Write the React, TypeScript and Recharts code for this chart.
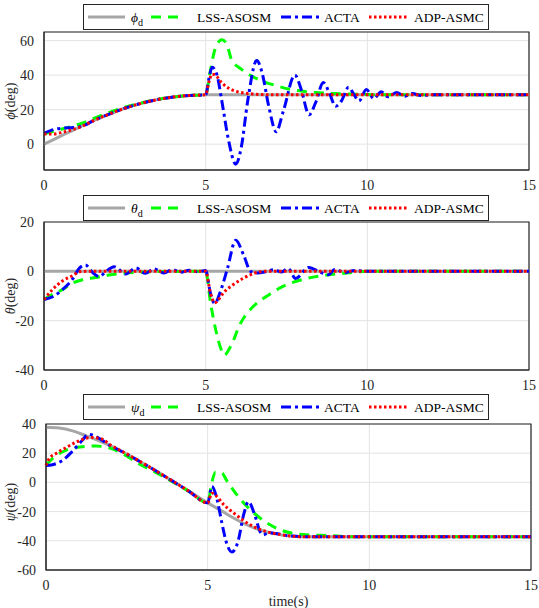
import { LineChart, Line, XAxis, YAxis, CartesianGrid, ReferenceArea } from 'recharts'

const timeTicks = [0, 5, 10, 15]
const phiTicks = [0, 20, 40, 60]
const thetaTicks = [-40, -20, 0, 20]
const psiTicks = [-60, -40, -20, 0, 20, 40]

// roll angle
const phiRefT = [0, 0.5, 1, 1.5, 2, 2.5, 3, 3.5, 4, 4.5, 5, 15]
const phiRefV = [0, 4.5, 9, 13.3, 17.3, 20.8, 23.6, 25.8, 27.3, 28.2, 28.6, 28.6]
const phiLssT = [0, 0.4, 0.8, 1.2, 1.6, 2, 2.5, 3, 3.5, 4, 4.5, 5, 5.13, 5.29, 5.5, 5.65, 5.8, 6.1, 6.4, 6.8, 7.2, 7.6, 8, 8.5, 9, 9.5, 10, 15]
const phiLssV = [6, 8, 10, 12.3, 15.3, 18.3, 21.4, 23.8, 25.9, 27.3, 28.2, 28.6, 41, 55, 60.5, 58, 49, 43.5, 39.7, 36.2, 33.8, 31.8, 30.6, 29.8, 29.3, 29, 28.7, 28.6]
const phiActaT = [0, 0.3, 0.6, 0.9, 1.2, 1.5, 2, 2.5, 3, 3.5, 4, 4.5, 5, 5.1, 5.2, 5.35, 5.5, 5.7, 5.93, 6.1, 6.3, 6.58, 6.75, 6.95, 7.18, 7.4, 7.76, 7.95, 8.2, 8.4, 8.64, 8.82, 9.02, 9.2, 9.42, 9.58, 9.74, 9.97, 10.2, 10.43, 10.64, 10.9, 11.15, 11.4, 11.65, 12, 15]
const phiActaV = [6.3, 8.5, 9.3, 9.6, 10.5, 13.3, 17.3, 20.8, 23.6, 25.8, 27.3, 28.2, 28.6, 38, 44.5, 40, 25, 3, -11.6, -2, 25, 48.5, 41, 22, 7.2, 19, 40, 32, 17, 24, 35.7, 30, 22, 25, 33, 29, 25, 31.6, 26.4, 30.3, 27.4, 30, 27.8, 29.3, 28.2, 28.6, 28.6]
const phiAdpT = [0, 0.3, 0.6, 0.9, 1.2, 1.5, 2, 2.5, 3, 3.5, 4, 4.5, 5, 5.1, 5.2, 5.3, 5.5, 5.75, 6, 6.5, 7, 15]
const phiAdpV = [5.8, 5.9, 7, 8.5, 10.5, 13.3, 17.3, 20.8, 23.6, 25.8, 27.3, 28.2, 28.6, 36, 40.5, 40, 35.5, 32, 30.3, 29, 28.6, 28.6]

// pitch angle
const thetaRefT = [0, 15]
const thetaRefV = [0, 0]
const thetaLssT = [0, 0.27, 0.58, 0.88, 1.19, 1.6, 2, 2.5, 3, 3.5, 5, 5.15, 5.31, 5.46, 5.57, 5.77, 6.08, 6.49, 6.9, 7.42, 8.03, 8.75, 9.37, 10, 15]
const thetaLssV = [-11.4, -9.3, -7.3, -4.8, -3.4, -2.5, -1.5, -0.7, -0.4, -0.1, 0, -12.7, -23.7, -31, -34, -30.5, -21, -14, -10, -5.9, -3.2, -1.5, -0.7, 0, 0]
const thetaActaT = [0, 0.27, 0.58, 0.88, 1.09, 1.28, 1.5, 1.71, 1.91, 2.17, 2.53, 2.84, 3.13, 3.4, 3.71, 3.97, 4.23, 4.49, 4.75, 5, 5.15, 5.28, 5.46, 5.67, 5.93, 6.18, 6.39, 6.6, 6.85, 7.1, 7.35, 7.55, 7.78, 8.19, 8.55, 8.8, 9, 9.3, 9.6, 10, 15]
const thetaActaV = [-11.4, -10.3, -7.3, -3.2, 1.2, 2.6, -0.4, -2.1, -0.1, 1.9, -1.1, 1.4, -0.8, 1, -0.7, 0.7, -0.4, 0.4, -0.2, 0.3, -9, -13, -8, 1, 12.6, 6.4, 0, -0.7, -0.2, 0.7, -0.3, 1.2, -2.9, 1.6, -0.4, -1.4, 0.9, -0.6, 0.3, 0, 0]
const thetaAdpT = [0, 0.27, 0.58, 0.88, 1.09, 1.3, 5, 5.15, 5.28, 5.57, 5.87, 6.18, 6.5, 6.8, 15]
const thetaAdpV = [-11.4, -7.3, -3.8, -1.8, -0.2, 0, 0, -9, -12.7, -8.4, -5.2, -2.7, -0.8, 0, 0]

// yaw angle
const psiRefT = [0, 0.41, 0.82, 1.23, 1.64, 2, 2.36, 2.87, 3.38, 3.89, 4.4, 5, 5.39, 5.8, 6.2, 6.62, 7.03, 7.54, 8.05, 15]
const psiRefV = [37.7, 37.2, 35.3, 32, 28.5, 25, 21, 14.7, 8.1, 1.2, -5.8, -14, -19, -24.4, -29, -32.6, -34.9, -36.7, -37.2, -37.2]
const psiLssT = [0, 0.2, 0.61, 1.13, 1.54, 1.95, 2.36, 2.87, 3.38, 3.89, 4.4, 5, 5.13, 5.24, 5.44, 5.59, 5.85, 6.21, 6.62, 7.13, 7.64, 8.16, 8.67, 9.5, 15]
const psiLssV = [12, 16.3, 22, 24.4, 24.9, 23.7, 19.8, 12.8, 7, 0.7, -5.8, -14, 0, 7, 6.5, 1.2, -7, -16.3, -24.4, -31.4, -34.9, -36, -36.3, -37.2, -37.2]
const psiActaT = [0, 0.2, 0.51, 0.82, 1.13, 1.31, 1.54, 2, 2.36, 2.87, 3.38, 3.89, 4.4, 5, 5.13, 5.29, 5.44, 5.59, 5.75, 5.95, 6.1, 6.26, 6.47, 6.62, 6.72, 6.88, 7.1, 7.54, 8.05, 15]
const psiActaV = [11.6, 12.1, 15.1, 21.4, 29, 33, 31.4, 25, 21, 14.7, 8.1, 1.2, -5.8, -14, -2.8, -11.6, -27.9, -41.9, -47.7, -39.5, -23.3, -13.3, -23.3, -33.7, -36, -34.4, -35, -36.7, -37.2, -37.2]
const psiAdpT = [0, 0.1, 0.31, 0.61, 0.92, 1.23, 1.43, 1.74, 2, 2.36, 2.87, 3.38, 3.89, 4.4, 5, 5.13, 5.24, 5.49, 5.8, 6.1, 6.41, 6.82, 7.34, 7.85, 15]
const psiAdpV = [11.6, 16.3, 19.8, 23.7, 27.4, 30.2, 30.7, 29.6, 25.5, 21.2, 14.8, 8.2, 1.3, -5.7, -14, -7.4, -8.8, -15.1, -20.9, -26, -30.2, -33.7, -36, -37.2, -37.2]

const seriesNames = ['LSS-ASOSM', 'ACTA', 'ADP-ASMC']

const AXIS = '#262626'
const FONT = 'Liberation Serif, serif'

const lineStyles = [
  { stroke: '#a6a6a6', strokeWidth: 3 },
  { stroke: '#00ff00', strokeWidth: 3, strokeDasharray: '10 7' },
  { stroke: '#0000ff', strokeWidth: 3, strokeDasharray: '10 4 3 4' },
  { stroke: '#ff0000', strokeWidth: 3, strokeDasharray: '2.5 2.5' },
]

const toPoints = (t: number[], v: number[]) => t.map((x, i) => ({ t: x, v: v[i] }))

interface PanelProps {
  top: number
  height: number
  plotTop: number
  xAxisHeight: number
  yAxisWidth: number
  rightMargin: number
  domain: [number, number]
  yTicks: number[]
  symbol: string
  legendTop: number
  labelY: number
  series: { t: number[]; v: number[] }[]
  timeLabel?: boolean
}

function Legend({ top, symbol }: { top: number; symbol: string }) {
  const items = [
    { x1: 5, x2: 42, tx: 48 },
    { x1: 68, x2: 102, tx: 114 },
    { x1: 198, x2: 236, tx: 241 },
    { x1: 286, x2: 326, tx: 331 },
  ]
  return (
    <svg
      width={406}
      height={26}
      style={{ position: 'absolute', left: 83, top, background: '#fff' }}
    >
      <rect x={0.5} y={0.5} width={405} height={25} fill="#fff" stroke={AXIS} strokeWidth={1} />
      {items.map((it, i) => (
        <g key={i}>
          <line x1={it.x1} x2={it.x2} y1={13} y2={13} {...lineStyles[i]} />
          <text x={it.tx} y={18} fontFamily={FONT} fontSize={13.5} fill="#000">
            {i === 0 ? (
              <>
                <tspan fontStyle="italic">{symbol}</tspan>
                <tspan fontSize={10} dy={4}>d</tspan>
              </>
            ) : (
              seriesNames[i - 1]
            )}
          </text>
        </g>
      ))}
    </svg>
  )
}

function Panel(p: PanelProps) {
  return (
    <>
      <div style={{ position: 'absolute', left: 0, top: p.top }}>
        <LineChart
          width={539}
          height={p.height}
          margin={{ top: p.plotTop, right: p.rightMargin, left: 0, bottom: 0 }}
        >
          <CartesianGrid stroke="#e3e3e3" strokeWidth={1} />
          <XAxis
            type="number"
            dataKey="t"
            domain={[0, 15]}
            ticks={timeTicks}
            height={p.xAxisHeight}
            tickLine={false}
            tickMargin={4}
            axisLine={{ stroke: AXIS }}
            tick={{ fill: AXIS, fontSize: 14, fontFamily: FONT }}
            label={
              p.timeLabel
                ? { value: 'time(s)', position: 'insideBottom', offset: 2, fill: AXIS, fontSize: 14, fontFamily: FONT }
                : undefined
            }
          />
          <YAxis
            type="number"
            domain={p.domain}
            ticks={p.yTicks}
            width={p.yAxisWidth}
            allowDataOverflow
            tickLine={false}
            tickMargin={4}
            axisLine={{ stroke: AXIS }}
            tick={{ fill: AXIS, fontSize: 14, fontFamily: FONT }}
          />
          {p.series.map((s, i) => (
            <Line
              key={i}
              data={toPoints(s.t, s.v)}
              dataKey="v"
              type="monotone"
              dot={false}
              activeDot={false}
              isAnimationActive={false}
              {...lineStyles[i]}
            />
          ))}
          <ReferenceArea
            x1={0}
            x2={15}
            y1={p.domain[0]}
            y2={p.domain[1]}
            fill="none"
            stroke={AXIS}
            strokeWidth={1.2}
          />
        </LineChart>
      </div>
      <div
        style={{
          position: 'absolute',
          left: 11,
          top: p.labelY,
          transform: 'translate(-50%, -50%) rotate(-90deg)',
          whiteSpace: 'nowrap',
          fontFamily: FONT,
          fontSize: 14,
          color: AXIS,
        }}
      >
        <i>{p.symbol}</i>(deg)
      </div>
      <Legend top={p.legendTop} symbol={p.symbol} />
    </>
  )
}

export default function App() {
  return (
    <div
      style={{
        position: 'absolute',
        left: 0,
        top: 0,
        width: 539,
        height: 608,
        background: '#fff',
        overflow: 'hidden',
        fontFamily: FONT,
      }}
    >
      <Panel
        top={0}
        height={195}
        plotTop={32}
        xAxisHeight={25}
        yAxisWidth={44}
        rightMargin={10}
        domain={[-15, 65]}
        yTicks={phiTicks}
        symbol="ϕ"
        legendTop={4}
        labelY={101}
        series={[
          { t: phiRefT, v: phiRefV },
          { t: phiLssT, v: phiLssV },
          { t: phiActaT, v: phiActaV },
          { t: phiAdpT, v: phiAdpV },
        ]}
      />
      <Panel
        top={195}
        height={200}
        plotTop={27}
        xAxisHeight={25}
        yAxisWidth={44}
        rightMargin={10}
        domain={[-40, 20]}
        yTicks={thetaTicks}
        symbol="θ"
        legendTop={195}
        labelY={296}
        series={[
          { t: thetaRefT, v: thetaRefV },
          { t: thetaLssT, v: thetaLssV },
          { t: thetaActaT, v: thetaActaV },
          { t: thetaAdpT, v: thetaAdpV },
        ]}
      />
      <Panel
        top={395}
        height={213}
        plotTop={29}
        xAxisHeight={38}
        yAxisWidth={46}
        rightMargin={8}
        domain={[-60, 40]}
        yTicks={psiTicks}
        symbol="ψ"
        legendTop={394}
        labelY={502}
        timeLabel
        series={[
          { t: psiRefT, v: psiRefV },
          { t: psiLssT, v: psiLssV },
          { t: psiActaT, v: psiActaV },
          { t: psiAdpT, v: psiAdpV },
        ]}
      />
    </div>
  )
}
